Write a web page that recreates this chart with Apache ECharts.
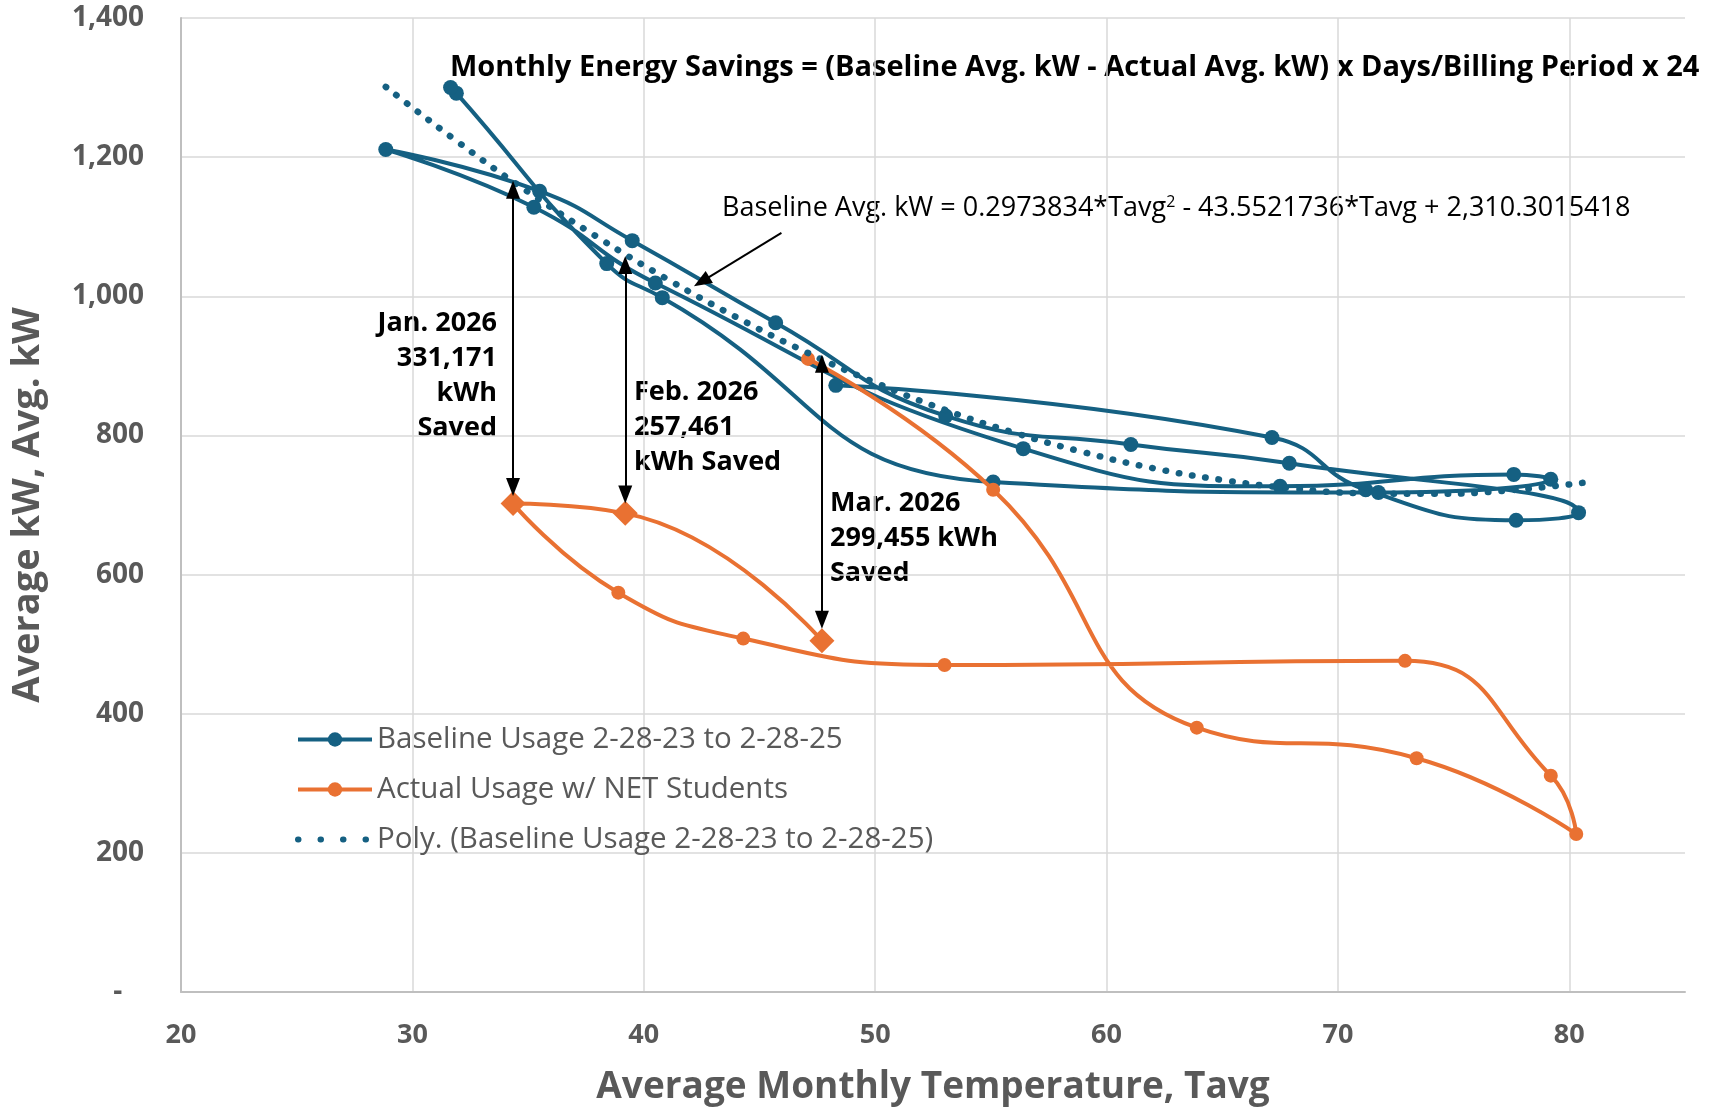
<!DOCTYPE html>
<html>
<head>
<meta charset="utf-8">
<script src="https://cdn.jsdelivr.net/npm/echarts@6/dist/echarts.min.js"></script>
<style>
html, body { margin: 0; padding: 0; background: #fff; }
#main { width: 1721px; height: 1110px; }
</style>
</head>
<body>
<div id="main"></div>
<script>
// Baseline usage, in billing order (2-28-23 to 2-28-25)
var baseTemp = [48.3, 67.15, 71.2, 77.7, 80.4, 67.9, 61.05, 53.05, 45.7, 39.5, 35.5, 28.85,
                35.25, 40.5, 56.4, 67.5, 77.6, 79.2, 71.75, 55.1, 40.8, 38.4, 31.9, 31.65];
var baseKw = [872, 797, 722, 678, 689, 760, 787, 828, 962, 1080, 1151, 1211,
              1128, 1019, 781, 727, 744, 737, 718, 733, 998, 1047, 1292, 1300];

// Actual usage w/ NET Students
var actualMonth = ['Mar. 2025', 'Apr. 2025', 'May 2025', 'Jun. 2025', 'Jul. 2025', 'Aug. 2025', 'Sep. 2025',
                   'Oct. 2025', 'Nov. 2025', 'Dec. 2025', 'Jan. 2026', 'Feb. 2026', 'Mar. 2026'];
var actualTemp = [47.1, 55.1, 63.9, 73.4, 80.3, 79.2, 72.9, 53.0, 44.3, 38.9, 34.35, 39.2, 47.7];
var actualKw = [910, 722, 380, 336, 227, 311, 476, 470, 508, 574, 702, 688, 505];

// Poly. trendline
var trendTemp = [28.85, 32, 35, 38, 41, 44, 47, 50, 53, 56, 59, 62, 65, 68, 71, 74, 77, 80.6];
var trendKw = [1301, 1221, 1150, 1085, 1025, 970, 920, 876, 837, 804, 776, 753, 736, 724, 717, 716, 720, 732];

// monthly savings (arrows from baseline down to actual, at the arrowheads)
var savingsMonth = ['Jan. 2026', 'Feb. 2026', 'Mar. 2026'];
var savingsKwh = [331171, 257461, 299455];
var arrowTop = [1153, 1045, 903];
var arrowBottom = [726, 715, 535];

// pointer to the equation
var pointerTemp = [45.95, 42.5];
var pointerKw = [1091, 1021];

var yTicks = [0, 200, 400, 600, 800, 1000, 1200, 1400];

var BLUE = '#156082', ORANGE = '#E97132', GRAY = '#595959';
var FONT = '"Open Sans", "Noto Sans", sans-serif';

var myChart = echarts.init(document.getElementById('main'));

var baseData = baseTemp.map(function (t, i) { return [t, baseKw[i]]; });
var trendData = trendTemp.map(function (t, i) { return [t, trendKw[i]]; });
var actualData = actualTemp.map(function (t, i) {
    var item = { value: [t, actualKw[i]] };
    if (savingsMonth.indexOf(actualMonth[i]) >= 0) {
        item.symbol = 'diamond';
        item.symbolSize = 25;
    }
    return item;
});

var arrowLines = savingsMonth.map(function (m) {
    var t = actualTemp[actualMonth.indexOf(m)];
    var i = savingsMonth.indexOf(m);
    return [{ coord: [t, arrowTop[i]] }, { coord: [t, arrowBottom[i]] }];
});
arrowLines.push([
    { coord: [pointerTemp[0], pointerKw[0]], symbol: 'none' },
    { coord: [pointerTemp[1], pointerKw[1]], symbol: 'triangle' }
]);

function fmt(n) { return n.toLocaleString('en-US'); }
var noteText = [
    savingsMonth[0] + '\n' + fmt(savingsKwh[0]) + '\nkWh\nSaved',
    savingsMonth[1] + '\n' + fmt(savingsKwh[1]) + '\nkWh Saved',
    savingsMonth[2] + '\n' + fmt(savingsKwh[2]) + ' kWh\nSaved'
];

var noteStyle = { fill: '#000', fontSize: 27, fontWeight: 'bold', fontFamily: FONT, lineHeight: 35 };

option = {
    animation: false,
    backgroundColor: '#fff',
    grid: { left: 181, right: 36, top: 18, bottom: 118, containLabel: false, outerBoundsMode: 'none' },
    legend: {
        data: [
            {
                name: 'Baseline Usage 2-28-23 to 2-28-25',
                lineStyle: { color: BLUE, width: 4 }
            },
            {
                name: 'Actual Usage w/ NET Students',
                lineStyle: { color: ORANGE, width: 4 }
            },
            {
                name: 'Poly. (Baseline Usage 2-28-23 to 2-28-25)',
                itemStyle: { color: 'rgba(0,0,0,0)', borderWidth: 0 },
                lineStyle: { color: BLUE, width: 6, type: [0.5, 22], cap: 'round' }
            }
        ],
        orient: 'vertical',
        left: 290,
        top: 718,
        itemWidth: 74,
        itemHeight: 18,
        itemGap: 17,
        textStyle: { fontSize: 29.5, color: GRAY, fontFamily: FONT, lineHeight: 33 }
    },
    xAxis: {
        type: 'value',
        min: 20,
        max: 85,
        interval: 10,
        name: 'Average Monthly Temperature, Tavg',
        nameLocation: 'middle',
        nameGap: 77,
        nameTextStyle: { fontSize: 37, fontWeight: 'bold', color: GRAY, fontFamily: FONT },
        axisLine: { show: true, lineStyle: { color: '#BFBFBF', width: 2 } },
        axisTick: { show: false },
        axisLabel: { fontSize: 27, fontWeight: 'bold', color: GRAY, fontFamily: FONT, margin: 30, showMaxLabel: false },
        splitLine: { show: true, showMinLine: false, showMaxLine: false, lineStyle: { color: '#D9D9D9', width: 1.5 } }
    },
    yAxis: {
        type: 'value',
        min: yTicks[0],
        max: yTicks[yTicks.length - 1],
        interval: yTicks[1] - yTicks[0],
        name: 'Average kW, Avg. kW',
        nameLocation: 'middle',
        nameGap: 134,
        nameRotate: 90,
        nameTextStyle: { fontSize: 38, fontWeight: 'bold', color: GRAY, fontFamily: FONT },
        axisLine: { show: true, lineStyle: { color: '#BFBFBF', width: 2 } },
        axisTick: { show: false },
        axisLabel: {
            fontSize: 28, fontWeight: 'bold', color: GRAY, fontFamily: FONT, margin: 37,
            formatter: function (v) { return v === 0 ? '-   ' : fmt(v); }
        },
        splitLine: { show: true, showMinLine: false, lineStyle: { color: '#D9D9D9', width: 1.5 } }
    },
    series: [
        {
            name: 'Baseline Usage 2-28-23 to 2-28-25',
            type: 'line',
            smooth: 0.5,
            symbol: 'circle',
            symbolSize: 15,
            data: baseData,
            lineStyle: { color: BLUE, width: 4 },
            itemStyle: { color: BLUE },
            z: 2
        },
        {
            name: 'Actual Usage w/ NET Students',
            type: 'line',
            smooth: 0.5,
            symbol: 'circle',
            symbolSize: 14,
            data: actualData,
            lineStyle: { color: ORANGE, width: 4 },
            itemStyle: { color: ORANGE },
            z: 3
        },
        {
            name: 'Poly. (Baseline Usage 2-28-23 to 2-28-25)',
            type: 'line',
            smooth: true,
            symbol: 'none',
            data: trendData,
            lineStyle: { color: BLUE, width: 6.5, type: [0.5, 13], cap: 'round' },
            itemStyle: { color: BLUE },
            z: 4
        },
        {
            name: 'arrows',
            type: 'line',
            data: [],
            z: 5,
            markLine: {
                silent: true,
                symbol: ['triangle', 'triangle'],
                symbolSize: [14, 18],
                label: { show: false },
                lineStyle: { color: '#000', width: 2, type: 'solid' },
                emphasis: { disabled: true },
                data: arrowLines
            }
        }
    ],
    graphic: [
        {
            type: 'text', x: 450, y: 68,
            style: {
                text: 'Monthly Energy Savings = (Baseline Avg. kW - Actual Avg. kW) x Days/Billing Period x 24',
                fill: '#000', fontSize: 29, fontWeight: 'bold', fontFamily: FONT, verticalAlign: 'middle'
            }
        },
        {
            type: 'text', x: 722, y: 208,
            style: {
                text: 'Baseline Avg. kW = 0.2973834*Tavg{sup|2} - 43.5521736*Tavg + 2,310.3015418',
                fill: '#000', fontSize: 27, fontFamily: FONT, verticalAlign: 'middle',
                rich: { sup: { fontSize: 16, verticalAlign: 'top', fill: '#000', fontFamily: FONT } }
            }
        },
        { type: 'text', x: 497, y: 306, style: Object.assign({ text: noteText[0], align: 'right' }, noteStyle) },
        { type: 'text', x: 634, y: 375, style: Object.assign({ text: noteText[1], align: 'left' }, noteStyle) },
        { type: 'text', x: 830, y: 486, style: Object.assign({ text: noteText[2], align: 'left' }, noteStyle) }
    ]
};

myChart.setOption(option);
</script>
</body>
</html>
